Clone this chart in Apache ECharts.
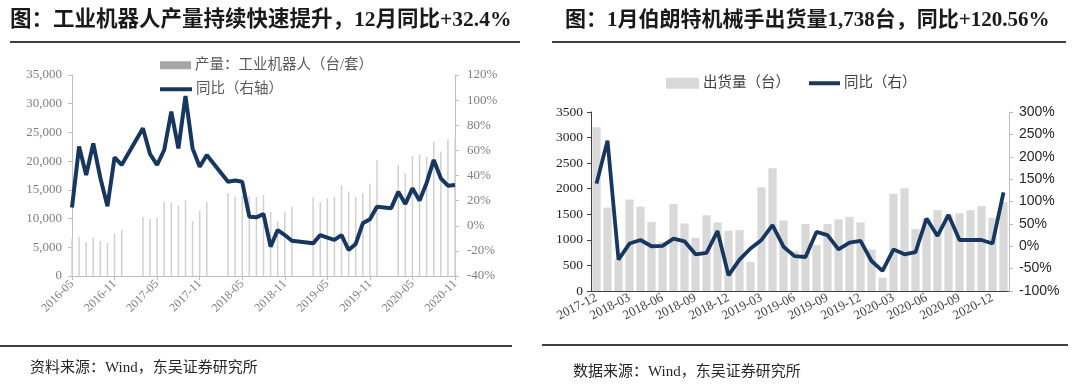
<!DOCTYPE html>
<html>
<head>
<meta charset="utf-8">
<script src="https://cdn.jsdelivr.net/npm/echarts@6/dist/echarts.min.js"></script>
<style>
html,body{margin:0;padding:0;background:#fff;}
#main{width:1080px;height:388px;}
</style>
</head>
<body>
<div id="main"></div>
<script>
// ---------- Left chart data ----------
const leftMonths = [
 '2016-05','2016-06','2016-07','2016-08','2016-09','2016-10','2016-11','2016-12',
 '2017-01','2017-02','2017-03','2017-04','2017-05','2017-06','2017-07','2017-08','2017-09','2017-10','2017-11','2017-12',
 '2018-01','2018-02','2018-03','2018-04','2018-05','2018-06','2018-07','2018-08','2018-09','2018-10','2018-11','2018-12',
 '2019-01','2019-02','2019-03','2019-04','2019-05','2019-06','2019-07','2019-08','2019-09','2019-10','2019-11','2019-12',
 '2020-01','2020-02','2020-03','2020-04','2020-05','2020-06','2020-07','2020-08','2020-09','2020-10','2020-11'
];
const robotOutput = [
 6500,6800,5900,6600,6100,5700,7400,8000,
 null,null,10300,9900,10200,12900,12800,12200,13200,9600,11300,12900,
 null,null,14400,13800,14000,13900,13800,14100,11200,9500,11100,12100,
 null,null,13800,12900,13500,13800,15800,14700,13800,14400,16100,20200,
 null,null,19300,17900,20900,21200,20800,23400,21700,23800,24000
];
const robotYoY = [
 14.5,63,40.4,65.6,38,15.5,54.5,48.4,
 null,null,77.6,57.1,48.4,60.3,90.8,61.6,103.3,61.6,47,56.3,
 null,null,35.1,36,35,7.2,6.7,9.4,-16.6,-3.4,-7.4,-11.9,
 null,null,-14,-7.4,-9.5,-11.3,-7.4,-19.3,-14.5,1.9,5.1,15.2,
 null,14,27,17.3,29.8,20,34,52.4,37.8,31.9,32.4
];
const leftLeftTicks = {min:0, max:35000, interval:5000};
const leftRightTicks = {min:-40, max:120, interval:20};

// ---------- Right chart data ----------
const rightMonths = [
 '2017-12',
 '2018-01','2018-02','2018-03','2018-04','2018-05','2018-06','2018-07','2018-08','2018-09','2018-10','2018-11','2018-12',
 '2019-01','2019-02','2019-03','2019-04','2019-05','2019-06','2019-07','2019-08','2019-09','2019-10','2019-11','2019-12',
 '2020-01','2020-02','2020-03','2020-04','2020-05','2020-06','2020-07','2020-08','2020-09','2020-10','2020-11','2020-12',
 '2021-01'
];
const shipments = [
 3200,
 1630,620,1790,1650,1350,960,1700,1320,1040,1480,1340,1180,
 1190,570,2030,2400,1380,780,1310,900,1310,1400,1450,1340,
 810,260,1900,2010,1210,1420,1580,1500,1520,1580,1660,1430,
 1738
];
const shipYoY = [
 140,
 236,-30,6,14,0,1,17,11,-18,-15,34,-65,
 -30,-5,14,47,-1,-22,-24,32,25,-7,8,12,
 -33,-55,-7,-18,-13,62,23,70,14,14,14,6,
 120.56
];
const rightLeftTicks = {min:0, max:3500, interval:500};
const rightRightTicks = {min:-100, max:300, interval:50};

const titles = [
 '图：工业机器人产量持续快速提升，12月同比+32.4%',
 '图：1月伯朗特机械手出货量1,738台，同比+120.56%'
];
const sources = ['资料来源：Wind，东吴证券研究所','数据来源：Wind，东吴证券研究所'];
const legendNames = ['产量：工业机器人（台/套）','同比（右轴）','出货量（台）','同比（右）'];

const NAVY = '#17375e';
const SERIF = "'Liberation Serif','Noto Sans CJK SC'";

const chart = echarts.init(document.getElementById('main'), null, {renderer:'canvas'});

function legendBlock(name, left, top, w, h, color, txtColor, size) {
  return {
    orient:'horizontal', left:left, top:top, itemWidth:w, itemHeight:h, itemGap:0,
    textStyle:{fontFamily:SERIF, fontSize:size, color:txtColor, padding:[0,0,0,-1]},
    data:[{name:name, icon:'rect', itemStyle:{color:color, borderWidth:0}}]
  };
}

const option = {
  animation: false,
  backgroundColor: '#fff',
  title: [
    {text: titles[0], left: 5, top: 5, textStyle:{fontFamily:SERIF, fontWeight:'bold', fontSize:21.5, color:'#1a1a1a'}},
    {text: titles[1], left: 560, top: 5, textStyle:{fontFamily:SERIF, fontWeight:'bold', fontSize:21, color:'#1a1a1a'}}
  ],
  legend: [
    legendBlock(legendNames[0], 155, 53, 31, 8, '#a6a6a6', '#595959', 14.5),
    legendBlock(legendNames[1], 155, 77, 32, 4, NAVY, '#595959', 14.5),
    legendBlock(legendNames[2], 661, 71, 33, 11, '#d9d9d9', '#404040', 14.5),
    legendBlock(legendNames[3], 804, 71, 31, 4, NAVY, '#404040', 14.5)
  ],
  grid: [
    {left:72, top:75, width:383, height:201},
    {left:591, top:112, width:418, height:179}
  ],
  xAxis: [
    {
      type:'category', gridIndex:0, data:leftMonths, boundaryGap:false,
      axisLine:{lineStyle:{color:'#bfbfbf', width:1}},
      axisTick:{interval:5, length:4, lineStyle:{color:'#bfbfbf'}},
      axisLabel:{interval:5, rotate:45, fontFamily:SERIF, fontSize:12, color:'#7f7f7f', margin:6}
    },
    {
      type:'category', gridIndex:1, data:rightMonths, boundaryGap:true,
      axisLine:{lineStyle:{color:'#404040', width:1}},
      axisTick:{interval:2, length:4, lineStyle:{color:'#404040'}},
      axisLabel:{interval:2, rotate:27, fontFamily:SERIF, fontSize:13, color:'#404040', margin:6}
    }
  ],
  yAxis: [
    {
      type:'value', gridIndex:0, position:'left', ...leftLeftTicks,
      axisLine:{show:true, lineStyle:{color:'#bfbfbf'}},
      axisTick:{show:true, length:4, lineStyle:{color:'#bfbfbf'}},
      splitLine:{show:false},
      axisLabel:{fontFamily:SERIF, fontSize:13, color:'#7f7f7f', margin:10,
        formatter: v => v.toLocaleString('en-US')}
    },
    {
      type:'value', gridIndex:0, position:'right', ...leftRightTicks,
      axisLine:{show:true, lineStyle:{color:'#bfbfbf'}},
      axisTick:{show:true, length:4, lineStyle:{color:'#bfbfbf'}},
      splitLine:{show:false},
      axisLabel:{fontFamily:SERIF, fontSize:13, color:'#7f7f7f', margin:12, formatter:'{value}%'}
    },
    {
      type:'value', gridIndex:1, position:'left', ...rightLeftTicks,
      axisLine:{show:true, lineStyle:{color:'#404040'}},
      axisTick:{show:true, length:4, lineStyle:{color:'#404040'}},
      splitLine:{show:false},
      axisLabel:{fontFamily:SERIF, fontSize:13.5, color:'#262626', margin:8, formatter: v => String(v)}
    },
    {
      type:'value', gridIndex:1, position:'right', ...rightRightTicks,
      axisLine:{show:true, lineStyle:{color:'#bfbfbf'}},
      axisTick:{show:true, length:4, lineStyle:{color:'#bfbfbf'}},
      splitLine:{show:false},
      axisLabel:{fontFamily:"'Liberation Sans'", fontSize:14, color:'#262626', margin:10, formatter:'{value}%'}
    }
  ],
  series: [
    {
      name:legendNames[0], type:'bar', xAxisIndex:0, yAxisIndex:0, data:robotOutput,
      barWidth:1.5, itemStyle:{color:'#d0d0d0'}
    },
    {
      name:legendNames[1], type:'line', xAxisIndex:0, yAxisIndex:1, data:robotYoY,
      connectNulls:true, symbol:'none', lineStyle:{color:NAVY, width:4}, itemStyle:{color:NAVY}, z:5
    },
    {
      name:legendNames[2], type:'bar', xAxisIndex:1, yAxisIndex:2, data:shipments,
      barCategoryGap:'25%', itemStyle:{color:'#d9d9d9'}
    },
    {
      name:legendNames[3], type:'line', xAxisIndex:1, yAxisIndex:3, data:shipYoY,
      symbol:'none', lineStyle:{color:NAVY, width:3.8}, itemStyle:{color:NAVY}, z:5
    }
  ],
  graphic: [
    {type:'line', shape:{x1:10, y1:42, x2:520, y2:42}, style:{stroke:'#404040', lineWidth:2}},
    {type:'line', shape:{x1:552, y1:42, x2:1066, y2:42}, style:{stroke:'#404040', lineWidth:2}},
    {type:'line', shape:{x1:0, y1:346, x2:512, y2:346}, style:{stroke:'#404040', lineWidth:2}},
    {type:'line', shape:{x1:542, y1:345, x2:1068, y2:345}, style:{stroke:'#404040', lineWidth:2}},
    {type:'text', left:30, top:361, style:{text:sources[0], font:"15px 'Liberation Serif','Noto Sans CJK SC'", fill:'#262626'}},
    {type:'text', left:573, top:365, style:{text:sources[1], font:"15px 'Liberation Serif','Noto Sans CJK SC'", fill:'#262626'}}
  ]
};
chart.setOption(option);
</script>
</body>
</html>
